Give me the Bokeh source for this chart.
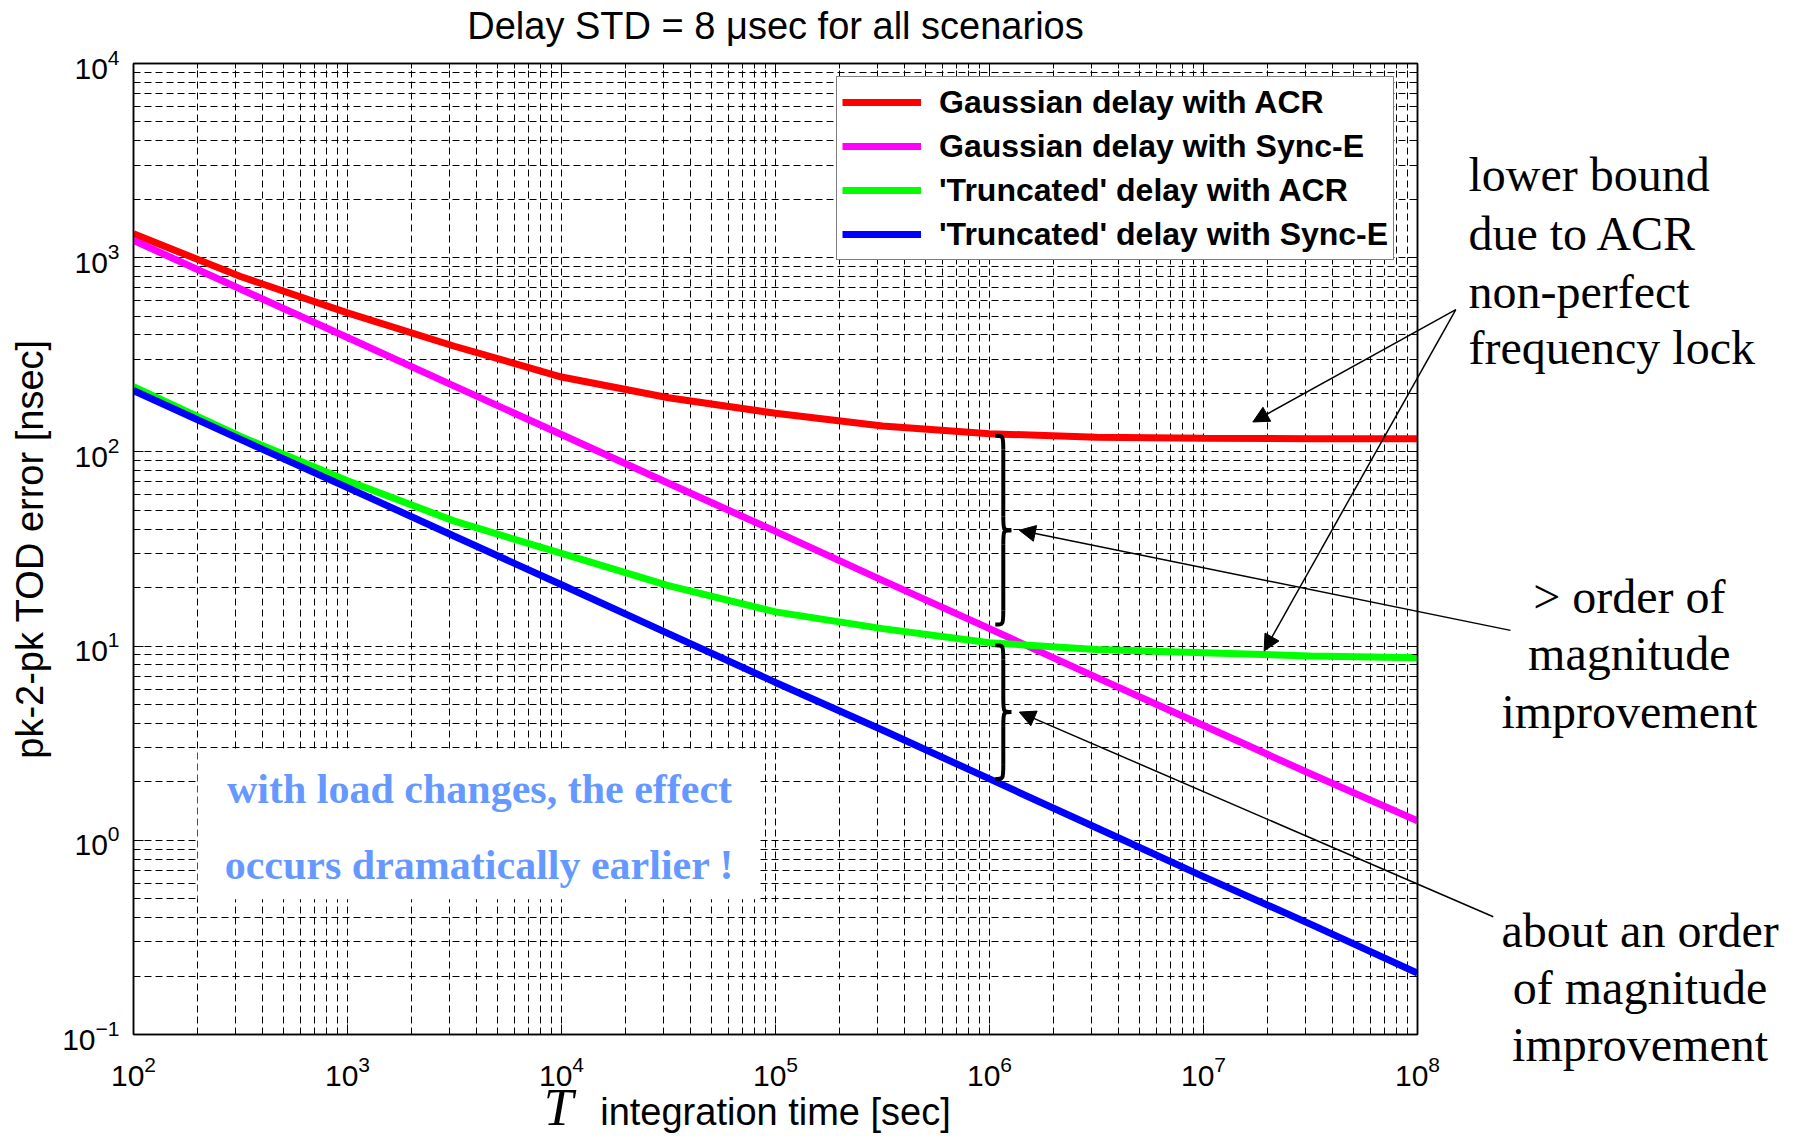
import math
from bokeh.plotting import figure
from bokeh.layouts import column
from bokeh.models import (LogAxis, FixedTicker, Label, Arrow, NormalHead, BoxAnnotation,
                          Legend, LegendItem, Range1d)
from bokeh.embed import file_html
from bokeh.resources import INLINE

# ---------------- data ----------------
T = [1e2, 3.16e2, 1e3, 3.16e3, 1e4, 3.16e4, 1e5, 3.16e5, 1e6, 3.16e6, 1e7, 3.16e7, 1e8]
gauss_acr = [1327, 800, 520, 350, 243, 190, 158, 136, 124, 119, 117.5, 117, 117]
gauss_synce = [1227, 690, 388, 218, 123, 69, 39, 21.8, 12.3, 6.9, 3.9, 2.2, 1.26]
trunc_acr = [217, 120, 71, 44, 30, 20.5, 15.0, 12.3, 10.4, 9.6, 9.25, 8.9, 8.7]
trunc_synce = [207, 116, 65.5, 36.8, 20.7, 11.6, 6.5, 3.7, 2.07, 1.16, 0.65, 0.37, 0.207]

labels = ["Gaussian delay with ACR", "Gaussian delay with Sync-E",
          "'Truncated' delay with ACR", "'Truncated' delay with Sync-E"]
colors = ["#FF0000", "#FF00FF", "#00FF00", "#0000FF"]

x_major = [1e2, 1e3, 1e4, 1e5, 1e6, 1e7, 1e8]
y_major = [1e-1, 1e0, 1e1, 1e2, 1e3, 1e4]

title_text = "Delay STD = 8 \u03bcsec for all scenarios"

# ---------------- layout constants ----------------
W, H = 1796, 1136
BL, BR, BT, BB = 133, 379, 63, 102
FW, FH = W - BL - BR, H - BT - BB
px_x = FW / 6.0     # px per decade
px_y = FH / 5.0

# ---------------- main figure ----------------
p = figure(x_axis_type="log", y_axis_type="log",
           x_range=Range1d(1e2, 1e8), y_range=Range1d(1e-1, 1e4),
           frame_width=FW, frame_height=FH,
           min_border_left=BL, min_border_right=BR, min_border_top=BT, min_border_bottom=BB,
           output_backend="svg", toolbar_location=None)
p.background_fill_color = "white"
p.border_fill_color = "white"
p.outline_line_color = "black"
p.outline_line_width = 1.5

def minors(lo, hi):
    out = []
    for e in range(lo, hi):
        for k in range(2, 10):
            out.append(k * 10.0 ** e)
    return out

def style_axis(ax):
    ax.axis_line_color = "black"
    ax.axis_line_width = 1.5
    ax.major_tick_in = 10
    ax.major_tick_out = 0
    ax.minor_tick_in = 5
    ax.minor_tick_out = 0
    ax.major_tick_line_color = "black"
    ax.minor_tick_line_color = "black"
    ax.major_label_text_font = "Liberation Sans"
    ax.major_label_text_font_size = "30px"
    ax.major_label_text_color = "black"
    ax.axis_label_text_font = "Liberation Sans"
    ax.axis_label_text_font_size = "38px"
    ax.axis_label_text_font_style = "normal"
    ax.axis_label_text_color = "black"

p.xaxis.ticker = FixedTicker(ticks=x_major, minor_ticks=minors(2, 8))
p.yaxis.ticker = FixedTicker(ticks=y_major, minor_ticks=minors(-1, 4))
style_axis(p.xaxis[0])
style_axis(p.yaxis[0])
p.xaxis.axis_label = "integration time [sec]"
p.yaxis.axis_label = "pk-2-pk TOD error [nsec]"
p.xaxis.major_label_standoff = 21
p.yaxis.major_label_standoff = 14
p.xaxis.axis_label_standoff = 2
p.yaxis.axis_label_standoff = 8

top_ax = LogAxis(ticker=FixedTicker(ticks=x_major, minor_ticks=minors(2, 8)))
right_ax = LogAxis(ticker=FixedTicker(ticks=y_major, minor_ticks=minors(-1, 4)))
for ax in (top_ax, right_ax):
    style_axis(ax)
    ax.major_label_text_font_size = "6px"
    ax.major_label_text_alpha = 0.0
    ax.major_label_standoff = 0
p.add_layout(top_ax, "above")
p.add_layout(right_ax, "right")

for g in (p.xgrid[0], p.ygrid[0]):
    g.grid_line_color = "black"
    g.grid_line_width = 1
    g.grid_line_dash = "7 4"
    g.grid_line_alpha = 1.0
    g.minor_grid_line_color = "black"
    g.minor_grid_line_width = 1
    g.minor_grid_line_dash = "7 4"
    g.minor_grid_line_alpha = 1.0

# ---------------- curves ----------------
series = [gauss_acr, gauss_synce, trunc_acr, trunc_synce]
rends = []
for ys, c in zip(series, colors):
    rends.append(p.line(T, ys, line_color=c, line_width=7))

legend = Legend(items=[LegendItem(label=l, renderers=[r]) for l, r in zip(labels, rends)],
                location=(703, 774))
legend.border_line_color = "black"
legend.border_line_width = 1.5
legend.background_fill_color = "white"
legend.background_fill_alpha = 1.0
legend.label_text_font = "Liberation Sans"
legend.label_text_font_size = "32px"
legend.label_text_font_style = "bold"
legend.label_text_color = "black"
legend.glyph_width = 79
legend.glyph_height = 40
legend.label_height = 40
legend.label_standoff = 18
legend.spacing = 4
legend.padding = 5
legend.margin = 0
p.add_layout(legend, "center")

# ---------------- helpers for pixel offsets in log space ----------------
def sx(t, dx):
    return t * 10 ** (dx / px_x)

def sy(v, dy):
    return v * 10 ** (-dy / px_y)

def brace(xb, vtop, vbot):
    vmid = math.sqrt(vtop * vbot)
    r = 14
    kw = dict(line_color="black", line_width=4)
    p.bezier(x0=[sx(xb, -8)], y0=[vtop], x1=[xb], y1=[sy(vtop, r)],
             cx0=[xb], cy0=[vtop], cx1=[xb], cy1=[vtop], **kw)
    p.segment(x0=[xb], y0=[sy(vtop, r)], x1=[xb], y1=[sy(vmid, -r)], **kw)
    p.bezier(x0=[xb], y0=[sy(vmid, -r)], x1=[sx(xb, 8)], y1=[vmid],
             cx0=[xb], cy0=[vmid], cx1=[xb], cy1=[vmid], **kw)
    p.bezier(x0=[sx(xb, 8)], y0=[vmid], x1=[xb], y1=[sy(vmid, r)],
             cx0=[xb], cy0=[vmid], cx1=[xb], cy1=[vmid], **kw)
    p.segment(x0=[xb], y0=[sy(vmid, r)], x1=[xb], y1=[sy(vbot, -r)], **kw)
    p.bezier(x0=[xb], y0=[sy(vbot, -r)], x1=[sx(xb, -8)], y1=[vbot],
             cx0=[xb], cy0=[vbot], cx1=[xb], cy1=[vbot], **kw)
    return vmid

xb = 1.16e6
m1 = brace(xb, 121, 12.9)
m2 = brace(xb, 10.1, 2.07)

# white box with blue text
p.add_layout(BoxAnnotation(left=199.5, right=84700, bottom=0.497, top=2.90,
                           fill_color="white", fill_alpha=1.0, line_color=None))
for txt, yv in (("with load changes, the effect", 1.83), ("occurs dramatically earlier !", 0.747)):
    p.add_layout(Label(x=4140, y=yv, text=txt, text_align="center", text_baseline="middle",
                       text_font="Liberation Serif", text_font_style="bold",
                       text_font_size="42px", text_color="#6699FF"))

# ---------------- transparent overlay (same log scales; its frame starts at the main frame's left) ----------------
ov = figure(x_axis_type="log", y_axis_type="log", x_axis_location=None, y_axis_location=None,
            x_range=Range1d(1e2, 10 ** (2 + W / px_x)),
            y_range=Range1d(10 ** (-1 - BB / px_y), 10 ** (4 + BT / px_y)),
            frame_width=W, frame_height=H, min_border=0,
            output_backend="svg", toolbar_location=None)
ov.grid.visible = False
ov.background_fill_alpha = 0
ov.border_fill_alpha = 0
ov.outline_line_color = None
ov.margin = (-H, 0, 0, 0)

# title
ov.add_layout(Label(x=1e5, y=sy(1e4, -38), text=title_text, text_align="center",
                    text_baseline="middle", text_font="Liberation Sans",
                    text_font_size="38px", text_color="black"))

def arrow(xs, ys, xe, ye):
    ov.add_layout(Arrow(end=NormalHead(size=16, fill_color="black", line_color="black", line_width=1),
                        x_start=xs, y_start=ys, x_end=xe, y_end=ye,
                        line_color="black", line_width=1.5))

arrow(1.51e8, 540, 1.70e7, 142.6)
arrow(1.51e8, 540, 1.92e7, 9.44)
arrow(2.72e8, 12.05, sx(xb, 16), m1)
arrow(2.26e8, 0.404, sx(xb, 16), m2)

def serif_lines(lines, xv, yvals, align):
    for t, yv in zip(lines, yvals):
        ov.add_layout(Label(x=xv, y=yv, text=t, text_align=align, text_baseline="middle",
                            text_font="Liberation Serif", text_font_size="48px",
                            text_color="black"))

serif_lines(["lower bound", "due to ACR", "non-perfect", "frequency lock"],
            1.73e8, [2680, 1340, 671, 345], "left")
serif_lines(["> order of", "magnitude", "improvement"],
            10 ** 8.99, [18.1, 9.2, 4.6], "center")
serif_lines(["about an order", "of magnitude", "improvement"],
            10 ** 9.04, [0.344, 0.175, 0.0885], "center")

# big italic T in front of the x label (kept inside the canvas, below the tick labels)
ov.add_layout(Label(x=9680, y=sy(1e-1, 101), text="T", text_align="center", text_baseline="bottom",
                    text_font="Liberation Serif", text_font_style="italic",
                    text_font_size="53px", text_color="black"))

layout = column(p, ov, spacing=0)
open("out.html", "w").write(file_html(layout, INLINE))
